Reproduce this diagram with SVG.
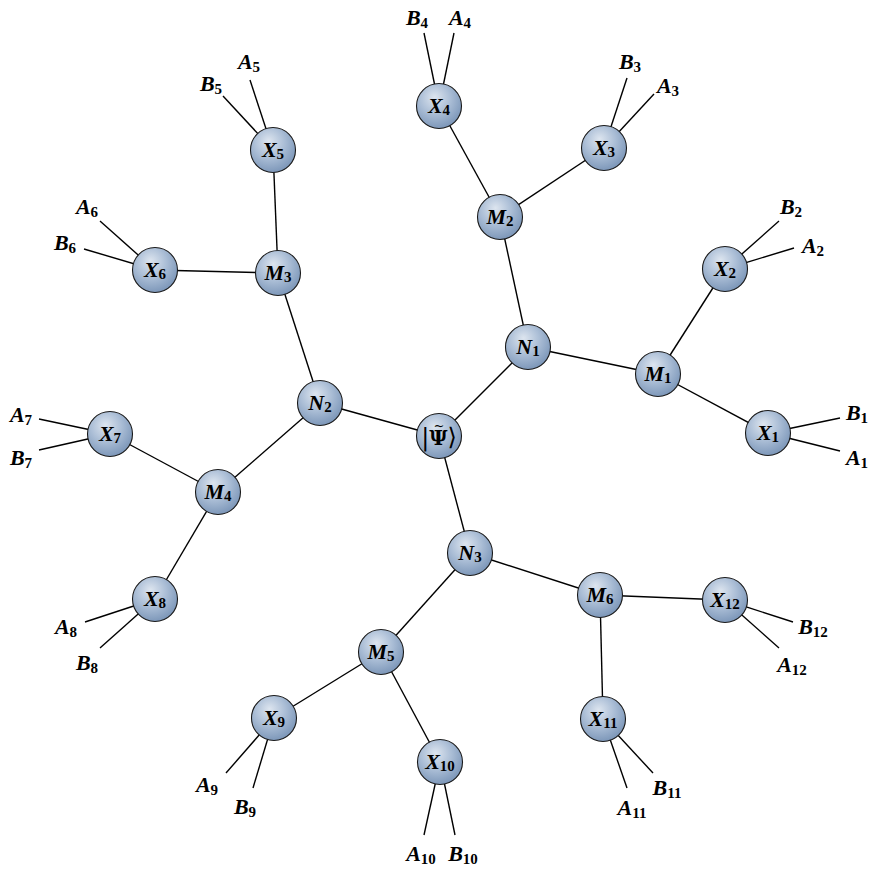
<svg xmlns="http://www.w3.org/2000/svg" width="878" height="870" viewBox="0 0 878 870">
<defs>
<radialGradient id="ball" cx="0.42" cy="0.36" r="0.68" fx="0.4" fy="0.3">
<stop offset="0" stop-color="#dde5ef"/>
<stop offset="0.5" stop-color="#abbed6"/>
<stop offset="1" stop-color="#7893b6"/>
</radialGradient>
</defs>
<style>
.e{stroke:#000;stroke-width:1.4;fill:none}
.n{fill:url(#ball);stroke:#1a1a1a;stroke-width:1.1}
.t{font-family:"Liberation Serif","DejaVu Serif",serif;font-size:22px;font-weight:bold;font-style:italic;text-anchor:middle;fill:#000}
.s{font-size:15px;font-style:normal}
</style>
<rect width="878" height="870" fill="#fff"/>
<g id="connectors">
<line class="e" x1="439" y1="436" x2="528" y2="347"/>
<line class="e" x1="439" y1="436" x2="320" y2="403"/>
<line class="e" x1="439" y1="436" x2="470" y2="553"/>
<line class="e" x1="528" y1="347" x2="658" y2="374"/>
<line class="e" x1="528" y1="347" x2="500" y2="217"/>
<line class="e" x1="320" y1="403" x2="278" y2="273"/>
<line class="e" x1="320" y1="403" x2="218" y2="492"/>
<line class="e" x1="470" y1="553" x2="381" y2="652"/>
<line class="e" x1="470" y1="553" x2="600" y2="595"/>
<line class="e" x1="658" y1="374" x2="768" y2="433"/>
<line class="e" x1="658" y1="374" x2="725" y2="269"/>
<line class="e" x1="500" y1="217" x2="604" y2="148"/>
<line class="e" x1="500" y1="217" x2="439" y2="106"/>
<line class="e" x1="278" y1="273" x2="273" y2="150"/>
<line class="e" x1="278" y1="273" x2="155" y2="270"/>
<line class="e" x1="218" y1="492" x2="110" y2="434"/>
<line class="e" x1="218" y1="492" x2="155" y2="599"/>
<line class="e" x1="381" y1="652" x2="274" y2="718"/>
<line class="e" x1="381" y1="652" x2="440" y2="762"/>
<line class="e" x1="600" y1="595" x2="603" y2="719"/>
<line class="e" x1="600" y1="595" x2="725" y2="600"/>
<line class="e" x1="768" y1="433" x2="840" y2="418"/>
<line class="e" x1="768" y1="433" x2="840" y2="451"/>
<line class="e" x1="725" y1="269" x2="779" y2="221"/>
<line class="e" x1="725" y1="269" x2="794" y2="248"/>
<line class="e" x1="604" y1="148" x2="627" y2="78"/>
<line class="e" x1="604" y1="148" x2="654" y2="94"/>
<line class="e" x1="439" y1="106" x2="424" y2="33"/>
<line class="e" x1="439" y1="106" x2="454" y2="33"/>
<line class="e" x1="273" y1="150" x2="250" y2="80"/>
<line class="e" x1="273" y1="150" x2="223" y2="96"/>
<line class="e" x1="155" y1="270" x2="100" y2="221"/>
<line class="e" x1="155" y1="270" x2="84" y2="249"/>
<line class="e" x1="110" y1="434" x2="39" y2="419"/>
<line class="e" x1="110" y1="434" x2="39" y2="450"/>
<line class="e" x1="155" y1="599" x2="85" y2="622"/>
<line class="e" x1="155" y1="599" x2="100" y2="648"/>
<line class="e" x1="274" y1="718" x2="226" y2="773"/>
<line class="e" x1="274" y1="718" x2="253" y2="788"/>
<line class="e" x1="440" y1="762" x2="424" y2="835"/>
<line class="e" x1="440" y1="762" x2="455" y2="835"/>
<line class="e" x1="603" y1="719" x2="627" y2="788"/>
<line class="e" x1="603" y1="719" x2="653" y2="773"/>
<line class="e" x1="725" y1="600" x2="793" y2="622"/>
<line class="e" x1="725" y1="600" x2="779" y2="648"/>
</g>
<g id="psi"><circle class="n" cx="439" cy="436" r="22.5"/>
<text x="439" y="445" style="font-family:'DejaVu Serif',serif;font-size:20px;text-anchor:middle"><tspan font-size="24" font-weight="normal">|</tspan><tspan font-weight="bold">Ψ</tspan><tspan font-size="13" dx="-14" dy="-15">~</tspan><tspan font-family="DejaVu Sans" font-size="24" dx="3" dy="15">⟩</tspan></text></g>
<g id="N1"><circle class="n" cx="528" cy="347" r="22.5"/><text class="t" x="528" y="354">N<tspan class="s" dy="2">1</tspan></text></g>
<g id="N2"><circle class="n" cx="320" cy="403" r="22.5"/><text class="t" x="320" y="410">N<tspan class="s" dy="2">2</tspan></text></g>
<g id="N3"><circle class="n" cx="470" cy="553" r="22.5"/><text class="t" x="470" y="560">N<tspan class="s" dy="2">3</tspan></text></g>
<g id="M1"><circle class="n" cx="658" cy="374" r="22.5"/><text class="t" x="658" y="381">M<tspan class="s" dy="2">1</tspan></text></g>
<g id="M2"><circle class="n" cx="500" cy="217" r="22.5"/><text class="t" x="500" y="224">M<tspan class="s" dy="2">2</tspan></text></g>
<g id="M3"><circle class="n" cx="278" cy="273" r="22.5"/><text class="t" x="278" y="280">M<tspan class="s" dy="2">3</tspan></text></g>
<g id="M4"><circle class="n" cx="218" cy="492" r="22.5"/><text class="t" x="218" y="499">M<tspan class="s" dy="2">4</tspan></text></g>
<g id="M5"><circle class="n" cx="381" cy="652" r="22.5"/><text class="t" x="381" y="659">M<tspan class="s" dy="2">5</tspan></text></g>
<g id="M6"><circle class="n" cx="600" cy="595" r="22.5"/><text class="t" x="600" y="602">M<tspan class="s" dy="2">6</tspan></text></g>
<g id="X1"><circle class="n" cx="768" cy="433" r="22.5"/><text class="t" x="768" y="440">X<tspan class="s" dy="2">1</tspan></text></g>
<g id="X2"><circle class="n" cx="725" cy="269" r="22.5"/><text class="t" x="725" y="276">X<tspan class="s" dy="2">2</tspan></text></g>
<g id="X3"><circle class="n" cx="604" cy="148" r="22.5"/><text class="t" x="604" y="155">X<tspan class="s" dy="2">3</tspan></text></g>
<g id="X4"><circle class="n" cx="439" cy="106" r="22.5"/><text class="t" x="439" y="113">X<tspan class="s" dy="2">4</tspan></text></g>
<g id="X5"><circle class="n" cx="273" cy="150" r="22.5"/><text class="t" x="273" y="157">X<tspan class="s" dy="2">5</tspan></text></g>
<g id="X6"><circle class="n" cx="155" cy="270" r="22.5"/><text class="t" x="155" y="277">X<tspan class="s" dy="2">6</tspan></text></g>
<g id="X7"><circle class="n" cx="110" cy="434" r="22.5"/><text class="t" x="110" y="441">X<tspan class="s" dy="2">7</tspan></text></g>
<g id="X8"><circle class="n" cx="155" cy="599" r="22.5"/><text class="t" x="155" y="606">X<tspan class="s" dy="2">8</tspan></text></g>
<g id="X9"><circle class="n" cx="274" cy="718" r="22.5"/><text class="t" x="274" y="725">X<tspan class="s" dy="2">9</tspan></text></g>
<g id="X10"><circle class="n" cx="440" cy="762" r="22.5"/><text class="t" x="440" y="769">X<tspan class="s" dy="2">10</tspan></text></g>
<g id="X11"><circle class="n" cx="603" cy="719" r="22.5"/><text class="t" x="603" y="726">X<tspan class="s" dy="2">11</tspan></text></g>
<g id="X12"><circle class="n" cx="725" cy="600" r="22.5"/><text class="t" x="725" y="607">X<tspan class="s" dy="2">12</tspan></text></g>
<g id="labels">
<text class="t" x="857" y="420">B<tspan class="s" dy="3">1</tspan></text>
<text class="t" x="857" y="465">A<tspan class="s" dy="3">1</tspan></text>
<text class="t" x="791" y="214">B<tspan class="s" dy="3">2</tspan></text>
<text class="t" x="813" y="253">A<tspan class="s" dy="3">2</tspan></text>
<text class="t" x="630" y="69">B<tspan class="s" dy="3">3</tspan></text>
<text class="t" x="668" y="93">A<tspan class="s" dy="3">3</tspan></text>
<text class="t" x="417" y="25">B<tspan class="s" dy="3">4</tspan></text>
<text class="t" x="460" y="25">A<tspan class="s" dy="3">4</tspan></text>
<text class="t" x="249" y="69">A<tspan class="s" dy="3">5</tspan></text>
<text class="t" x="211" y="91">B<tspan class="s" dy="3">5</tspan></text>
<text class="t" x="87" y="214">A<tspan class="s" dy="3">6</tspan></text>
<text class="t" x="65" y="250">B<tspan class="s" dy="3">6</tspan></text>
<text class="t" x="21" y="422">A<tspan class="s" dy="3">7</tspan></text>
<text class="t" x="21" y="465">B<tspan class="s" dy="3">7</tspan></text>
<text class="t" x="66" y="634">A<tspan class="s" dy="3">8</tspan></text>
<text class="t" x="87" y="670">B<tspan class="s" dy="3">8</tspan></text>
<text class="t" x="207" y="792">A<tspan class="s" dy="3">9</tspan></text>
<text class="t" x="245" y="814">B<tspan class="s" dy="3">9</tspan></text>
<text class="t" x="421" y="861">A<tspan class="s" dy="3">10</tspan></text>
<text class="t" x="463" y="861">B<tspan class="s" dy="3">10</tspan></text>
<text class="t" x="632" y="815">A<tspan class="s" dy="3">11</tspan></text>
<text class="t" x="667" y="795">B<tspan class="s" dy="3">11</tspan></text>
<text class="t" x="813" y="634">B<tspan class="s" dy="3">12</tspan></text>
<text class="t" x="792" y="672">A<tspan class="s" dy="3">12</tspan></text>
</g>
</svg>
